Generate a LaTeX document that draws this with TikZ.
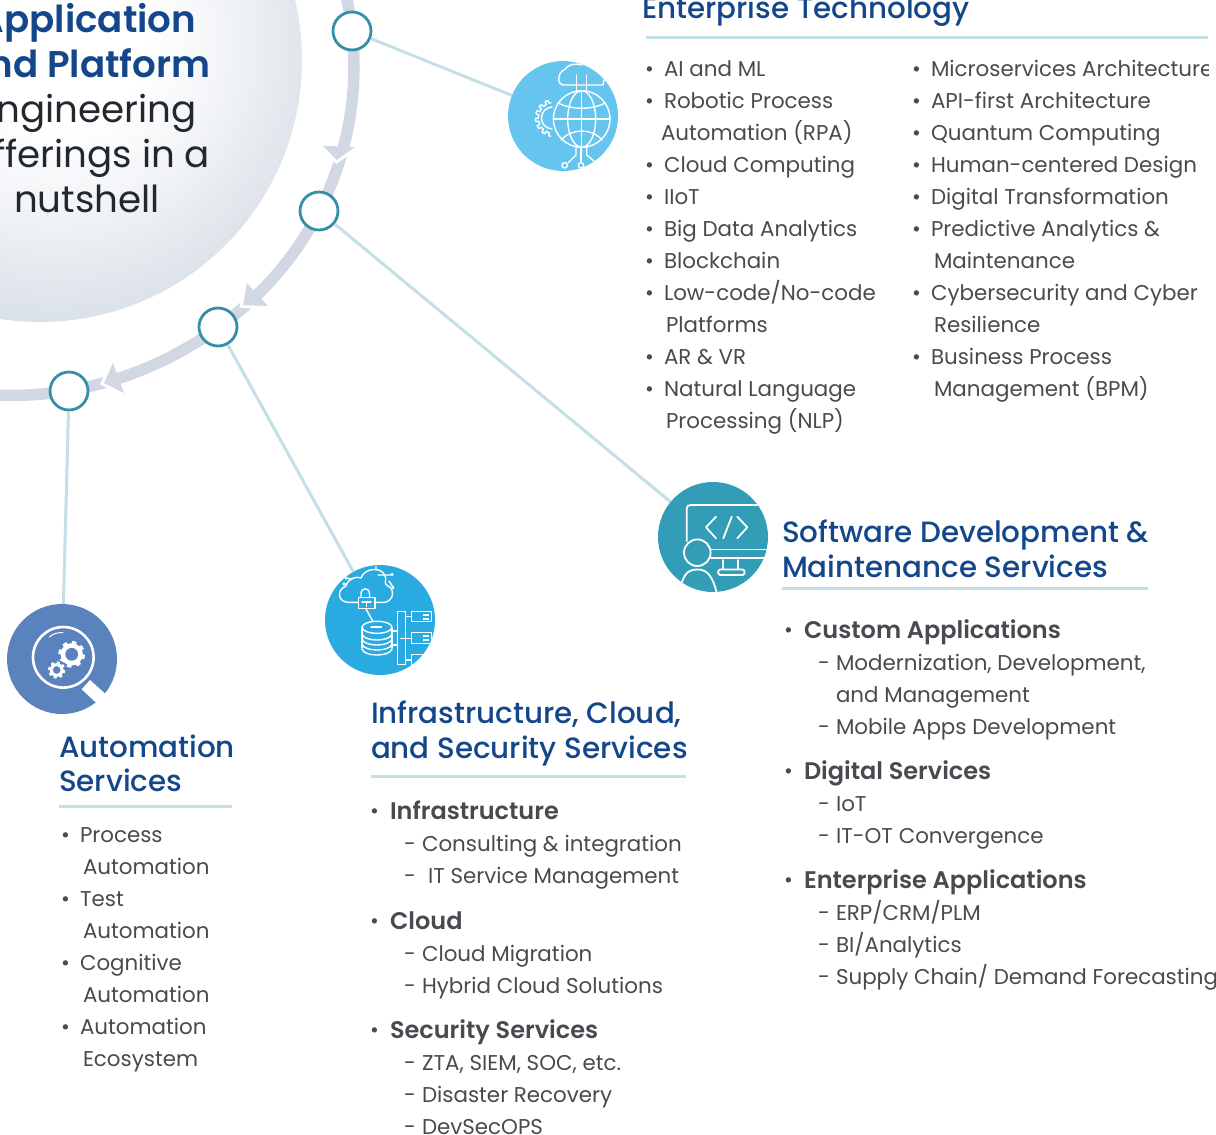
\documentclass[tikz,border=0pt]{standalone}
\usepackage{fontspec}
\setmainfont{Poppins}
\newfontfamily\medf{Poppins Medium}
\newfontfamily\semif{Poppins SemiBold}
\definecolor{headblue}{HTML}{14478A}
\definecolor{bodygrey}{HTML}{474A4F}
\definecolor{darktxt}{HTML}{23272E}
\definecolor{ringc}{HTML}{D2D8E3}
\definecolor{nodec}{HTML}{358FA8}
\definecolor{linkc}{HTML}{C4DFE5}
\definecolor{icona}{HTML}{66C5EE}
\definecolor{iconb}{HTML}{339DB7}
\definecolor{iconc}{HTML}{29ABE2}
\definecolor{icond}{HTML}{5A82BD}
\definecolor{gla}{HTML}{F2F4F7}
\definecolor{glb}{HTML}{E2E7ED}
\definecolor{glc}{HTML}{D3DBE4}
\definecolor{gld}{HTML}{C8D2DE}
\pgfdeclareradialshading{globeshade}{\pgfpoint{2bp}{2bp}}{
 color(0bp)=(white); color(8bp)=(white); color(16bp)=(gla); color(23bp)=(glb);
 color(30bp)=(glc); color(36bp)=(gld); color(100bp)=(gld)}
\tikzset{
 x=1pt,y=-1pt,
 txt/.style={anchor=base west,inner sep=0pt,outer sep=0pt,yshift=1pt,text=bodygrey,font=\fontsize{21.4}{26}\selectfont},
 sub/.style={anchor=base west,inner sep=0pt,outer sep=0pt,text=bodygrey,font=\fontsize{24}{30}\semif},
 head/.style={anchor=base west,inner sep=0pt,outer sep=0pt,text=headblue,font=\fontsize{29.35}{36}\medf},
 titleb/.style={anchor=base,inner sep=0pt,text=headblue,font=\fontsize{37.2}{44}\semif},
 titler/.style={anchor=base,inner sep=0pt,text=darktxt,font=\fontsize{37.2}{44}\selectfont},
 rule/.style={draw=linkc,line width=3pt},
 ringnode/.style={circle,draw=nodec,line width=2.8pt,fill=white,minimum size=38pt,inner sep=0pt},
 iconnode/.style={circle,minimum size=110pt,inner sep=0pt},
 link/.style={draw=linkc,line width=3pt},
 ico/.style={draw=white,line width=1.4pt,line cap=round,line join=round},
 arrowh/.style={fill=ringc,draw=none},
 halo/.style={draw=white,line width=6pt},
 ringline/.style={draw=ringc,line width=11.5pt}
}
\newcommand\tl[5][txt]{\node[#1] (#2) at (#3,#4) {#5};}
\newcommand\bl[3]{\node[txt] (#1) at (#2,#3) {•};}
\newcommand\rr[4]{\coordinate (#1a) at (#2,#4); \coordinate (#1b) at (#3,#4); \draw[rule] (#1a) -- (#1b);}
\begin{document}
\begin{tikzpicture}
\useasboundingbox (0,0) rectangle (1216,1135);
\clip (0,0) rectangle (1216,1135);
% ring
\draw[ringline] plot[domain=-16:55,samples=72] ({35+319*cos(\x)},{66+319*sin(\x)});
\draw[ringline] plot[domain=53.8:100,samples=48] ({10+352.5*cos(\x)},{43+352.5*sin(\x)});
% arrowheads
\draw[halo] (322.7,145.7) -- (336.7,160) -- (355,147);
\fill[arrowh] (322.7,145.7) -- (336.7,160) -- (355,147) -- cycle;
\draw[halo] (247,283) -- (243,305) -- (268,306);
\fill[arrowh] (247,283) -- (243,305) -- (268,306) -- cycle;
\draw[halo] (113,363) -- (104,383) -- (124,393);
\fill[arrowh] (113,363) -- (104,383) -- (124,393) -- cycle;
% centre globe
\shade[shading=globeshade] (40,60) circle (262);
\node[titleb] (tA) at (87,32) {Application};
\node[titleb] (tB) at (87,77) {and Platform};
\node[titler] (tC) at (87,122) {Engineering};
\node[titler] (tD) at (87,167) {Offerings in a};
\node[titler] (tE) at (87,212) {nutshell};
% ring nodes and icon discs
\node[ringnode] (n1) at (352,31) {};
\node[ringnode] (n2) at (319,211) {};
\node[ringnode] (n3) at (218,327) {};
\node[ringnode] (n4) at (69,391) {};
\node[iconnode,fill=icona] (ic1) at (563,116) {};
\node[iconnode,fill=iconb] (ic2) at (713,537) {};
\node[iconnode,fill=iconc] (ic3) at (380,620) {};
\node[iconnode,fill=icond] (ic4) at (62,659) {};
\draw[link] (n1) -- (ic1);
\draw[link] (n2) -- (ic2);
\draw[link] (n3) -- (ic3);
\draw[link] (n4) -- (ic4);
% icon 1
\begin{scope}
\clip (563,116) circle (55);
\draw[ico] (581.7,119) circle (28.3);
\draw[ico] (581.7,119) ellipse (14 and 28.3);
\draw[ico] (581.7,90.7) -- (581.7,147.3) (553.4,119) -- (610,119);
\draw[ico] (558,103) .. controls (572,110) and (592,110) .. (605,103);
\draw[ico] (561,140) .. controls (572,128) and (592,128) .. (602,140);
\draw[ico] (576.5,85) -- (564,85) .. controls (556,85) and (558,72) .. (564,70) .. controls (568,64) and (576,63) .. (582,65);
\draw[ico] (576.5,85) -- (603,85) -- (604,80);
\draw[ico] (576.7,91) -- (576.7,75) (586.7,91) -- (586.7,75);
\draw[ico] plot[domain=100:258,samples=159] ({554+(15.5+3*(sin(15*\x)>0))*cos(\x)},{118+(15.5+3*(sin(15*\x)>0))*sin(\x)});
\draw[ico] (552,107) .. controls (538,108) and (538,128) .. (552,129);
\draw[ico] (576,147) -- (576,155) -- (568,163);
\draw[ico] (564.7,165.3) circle (2.7);
\draw[ico] (581,147) -- (581,162);
\draw[ico] (581,165.3) circle (2.7);
\draw[ico] (586.7,147) -- (586.7,155) -- (594,161);
\end{scope}
% icon 2
\begin{scope}
\clip (713,537) circle (55);
\draw[ico,line width=1.8pt] (686.7,541) -- (686.7,509) .. controls (686.7,506) and (688,505) .. (691,505) -- (780,505);
\draw[ico,line width=1.8pt] (711,549.5) -- (780,549.5) (711,558) -- (780,558);
\draw[ico,line width=1.8pt] (723.3,560) -- (723.3,569) (738.3,560) -- (738.3,569);
\draw[ico,line width=1.8pt,rounded corners=1.5pt] (718.3,569.5) rectangle (744.5,575);
\draw[ico,line width=1.8pt] (716,516.7) -- (706,527.3) -- (716,538.3);
\draw[ico,line width=1.8pt] (731.7,516.7) -- (723.3,538.3);
\draw[ico,line width=1.8pt] (737.3,516.7) -- (747.3,527.3) -- (737.3,538.3);
\draw[ico,line width=1.8pt,fill=iconb] (697.3,552.7) circle (13.3);
\draw[ico,line width=1.8pt] (682,582) .. controls (686,570) and (692,569.5) .. (698,569.5) .. controls (708,569.5) and (713,578) .. (716.5,592);
\end{scope}
% icon 3
\begin{scope}
\clip (380,620) circle (55);
\draw[ico] (357.7,602.3) -- (348,602.3) .. controls (338,602) and (336,590) .. (346,586) .. controls (348,578) and (357,576) .. (361,578) .. controls (364,568) and (382,566) .. (385,576) .. controls (388,580) and (382,582) .. (388,586) .. controls (394,588) and (395,600) .. (385,602.3) -- (374.3,602.3);
\draw[ico] (358.3,597.7) rectangle (375,608.3);
\draw[ico] (361,597.7) -- (361,594) .. controls (361,587) and (369.5,587) .. (369.5,594) -- (369.5,597.7);
\draw[ico] (362,602) -- (371,602) (366.5,602) -- (366.5,606.5);
\draw[ico] (366,609) -- (372.7,621);
\draw[ico] (377,627.3) ellipse (15 and 6);
\draw[ico] (371,627) -- (381.5,627);
\draw[ico] (362,628) -- (362,648) (392,628) -- (392,648);
\draw[ico] (362,634) .. controls (364,642) and (390,642) .. (392,634);
\draw[ico] (362,639) .. controls (364,647) and (390,647) .. (392,639);
\draw[ico] (362,644) .. controls (364,652) and (390,652) .. (392,644);
\draw[ico] (362,649) .. controls (364,657) and (390,657) .. (392,649);
\draw[ico] (397.7,611.7) rectangle (405.7,664.3);
\draw[ico] (391.7,631) -- (397.7,631) (391.7,645) -- (397.7,645);
\draw[ico] (400.7,638.3) -- (411.7,638.3) (405.7,616.7) -- (411.7,616.7) (405.7,660) -- (411.7,660);
\draw[ico] (411.7,611.7) rectangle (431.7,621.7);
\draw[ico] (411.7,632.7) rectangle (431.7,643.3);
\draw[ico] (411.7,654.3) rectangle (431.7,665);
\draw[white,line width=1.5pt] (423,615) -- (429,615) (423,619) -- (429,619) (423,636) -- (429,636) (423,640) -- (429,640) (423,658) -- (429,658);
\draw[ico] (378,575) -- (390,575) (392,574.5) circle (.8) (389,581) -- (393,587);
\draw[ico] (393,587.5) circle (.8) (376,570) -- (376,566);
\draw[ico] (347,584) -- (344,584) (344,584) circle (1) (352,579) -- (346,578) (346,578) circle (1);
\end{scope}
% icon 4
\draw[white,line width=2.6pt] (63.3,657.3) circle (30.3);
\fill[white] (81.7,689.3) -- (90,680) -- (106.7,695) -- (96.7,703.3) -- cycle;
\draw[white,line width=1pt,line cap=round] (49.5,637) .. controls (53,633.5) and (58,632.5) .. (63,632.5);
\fill[white] plot[domain=0:360,samples=181] ({71.7+(11+2.3*(sin(8*\x)>0))*cos(\x)},{654.3+(11+2.3*(sin(8*\x)>0))*sin(\x)}) -- cycle;
\fill[icond] (71.7,654.3) circle (6.4);
\fill[icond] (56.7,670) circle (10);
\fill[white] plot[domain=0:360,samples=181] ({56.7+(6.8+1.8*(sin(8*\x)>0))*cos(\x)},{670+(6.8+1.8*(sin(8*\x)>0))*sin(\x)}) -- cycle;
\fill[icond] (56.7,670) circle (3.8);
% Enterprise Technology
\tl[head]{hE}{642}{19}{Enterprise Technology}
\rr{rE}{646}{1208}{37}
\bl{e1b}{645}{77}\tl{e1}{664}{77}{AI and ML}
\bl{e2b}{645}{109}\tl{e2}{664}{109}{Robotic Process}
\tl{e3}{661}{141}{Automation (RPA)}
\bl{e4b}{645}{173}\tl{e4}{664}{173}{Cloud Computing}
\bl{e5b}{645}{205}\tl{e5}{664}{205}{IIoT}
\bl{e6b}{645}{237}\tl{e6}{664}{237}{Big Data Analytics}
\bl{e7b}{645}{269}\tl{e7}{664}{269}{Blockchain}
\bl{e8b}{645}{301}\tl{e8}{664}{301}{Low-code/No-code}
\tl{e9}{666}{333}{Platforms}
\bl{e10b}{645}{365}\tl{e10}{664}{365}{AR \& VR}
\bl{e11b}{645}{397}\tl{e11}{664}{397}{Natural Language}
\tl{e12}{666}{429}{Processing (NLP)}
\bl{f1b}{912}{77}
\begin{scope}
\clip (900,50) rectangle (1208.5,90);
\tl{f1}{931}{77}{Microservices Architecture}
\end{scope}
\bl{f2b}{912}{109}\tl{f2}{931}{109}{API-first Architecture}
\bl{f3b}{912}{141}\tl{f3}{931}{141}{Quantum Computing}
\bl{f4b}{912}{173}\tl{f4}{931}{173}{Human-centered Design}
\bl{f5b}{912}{205}\tl{f5}{931}{205}{Digital Transformation}
\bl{f6b}{912}{237}\tl{f6}{931}{237}{Predictive Analytics \&}
\tl{f7}{934}{269}{Maintenance}
\bl{f8b}{912}{301}\tl{f8}{931}{301}{Cybersecurity and Cyber}
\tl{f9}{934}{333}{Resilience}
\bl{f10b}{912}{365}\tl{f10}{931}{365}{Business Process}
\tl{f11}{934}{397}{Management (BPM)}
% Software
\tl[head]{hS1}{782}{542}{Software Development \&}
\tl[head]{hS2}{782}{577}{Maintenance Services}
\rr{rS}{782}{1148}{588}
\bl{s1b}{784}{638}\tl[sub]{s1}{804}{638}{Custom Applications}
\tl{s2}{818}{671}{-}\tl{s2t}{836}{671}{Modernization, Development,}
\tl{s3}{836}{703}{and Management}
\tl{s4}{818}{735}{-}\tl{s4t}{836}{735}{Mobile Apps Development}
\bl{s5b}{784}{779}\tl[sub]{s5}{804}{779}{Digital Services}
\tl{s6}{818}{812}{-}\tl{s6t}{836}{812}{IoT}
\tl{s7}{818}{844}{-}\tl{s7t}{836}{844}{IT-OT Convergence}
\bl{s8b}{784}{888}\tl[sub]{s8}{804}{888}{Enterprise Applications}
\tl{s9}{818}{921}{-}\tl{s9t}{836}{921}{ERP/CRM/PLM}
\tl{s10}{818}{953}{-}\tl{s10t}{836}{953}{BI/Analytics}
\tl{s11}{818}{985}{-}\tl{s11t}{836}{985}{Supply Chain/ Demand Forecasting}
% Infrastructure
\tl[head]{hI1}{371}{723}{Infrastructure, Cloud,}
\tl[head]{hI2}{371}{758}{and Security Services}
\rr{rI}{371}{686}{776}
\bl{i1b}{370}{819}\tl[sub]{i1}{390}{819}{Infrastructure}
\tl{i2}{404}{852}{-}\tl{i2t}{422}{852}{Consulting \& integration}
\tl{i3}{404}{884}{-}\tl{i3t}{428}{884}{IT Service Management}
\bl{i4b}{370}{929}\tl[sub]{i4}{390}{929}{Cloud}
\tl{i5}{404}{962}{-}\tl{i5t}{422}{962}{Cloud Migration}
\tl{i6}{404}{994}{-}\tl{i6t}{422}{994}{Hybrid Cloud Solutions}
\bl{i7b}{370}{1038}\tl[sub]{i7}{390}{1038}{Security Services}
\tl{i8}{404}{1071}{-}\tl{i8t}{422}{1071}{ZTA, SIEM, SOC, etc.}
\tl{i9}{404}{1103}{-}\tl{i9t}{422}{1103}{Disaster Recovery}
\tl{i10}{404}{1135}{-}\tl{i10t}{422}{1135}{DevSecOPS}
% Automation
\tl[head]{hA1}{59}{757}{Automation}
\tl[head]{hA2}{59}{791}{Services}
\rr{rA}{59}{232}{806}
\bl{a1b}{61}{843}\tl{a1}{80}{843}{Process}
\tl{a2}{83}{875}{Automation}
\bl{a3b}{61}{907}\tl{a3}{80}{907}{Test}
\tl{a4}{83}{939}{Automation}
\bl{a5b}{61}{971}\tl{a5}{80}{971}{Cognitive}
\tl{a6}{83}{1003}{Automation}
\bl{a7b}{61}{1035}\tl{a7}{80}{1035}{Automation}
\tl{a8}{83}{1067}{Ecosystem}
\end{tikzpicture}
\end{document}
